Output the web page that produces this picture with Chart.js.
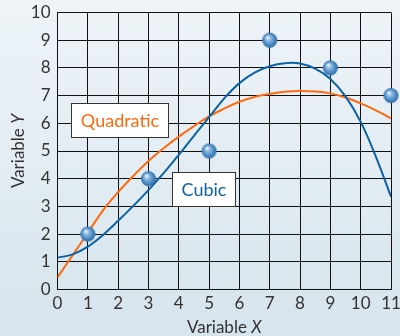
<!DOCTYPE html>
<html><head><meta charset="utf-8">
<script src="https://cdn.jsdelivr.net/npm/chart.js@4.4.1/dist/chart.umd.min.js"></script>
<style>
html,body{margin:0;padding:0;}
body{width:400px;height:336px;background:linear-gradient(180deg,#eef4f8 0%,#d6e4ed 100%);overflow:hidden;}
#wrap{width:400px;height:336px;position:relative;}
</style>
</head><body><div id="wrap"><canvas id="c" width="400" height="336"></canvas></div>
<script>
// sample positions along the fitted curves
const curveX    = [0,0.5,1,1.5,2,2.5,3,3.5,4,4.5,5,5.5,6,6.5,7,7.5,8,8.5,9,9.5,10,10.5,11];
const quadraticY= [0.44,1.24,2.05,2.86,3.52,4.1,4.64,5.1,5.52,5.9,6.25,6.53,6.78,6.95,7.06,7.14,7.17,7.15,7.08,6.93,6.72,6.47,6.18];
const cubicY    = [1.15,1.27,1.55,1.97,2.48,3.02,3.59,4.2,4.86,5.55,6.22,6.9,7.45,7.83,8.06,8.17,8.16,7.97,7.6,6.97,6.05,4.8,3.35];
// observed points
const pointX = [1,3,5,7,9,11];
const pointY = [2,4,5,9,8,7];
// axes
const xTicks = [0,1,2,3,4,5,6,7,8,9,10,11];
const yTicks = [0,1,2,3,4,5,6,7,8,9,10];
const xTitle = ['Variable ', 'X'];
const yTitle = ['Variable ', 'Y'];
const labelQuadratic = 'Quadratic';
const labelCubic = 'Cubic';

const FONT = 'Lato, "Open Sans", sans-serif';
const ORANGE = '#ff6a0e';
const BLUE = '#0b62a4';

function sphere(r){
  const s = Math.ceil(r*2+2), c = document.createElement('canvas');
  c.width = s; c.height = s;
  const g = c.getContext('2d');
  const cx = s/2, cy = s/2;
  const grad = g.createRadialGradient(cx - r*0.3, cy - r*0.4, r*0.05, cx, cy, r);
  grad.addColorStop(0, '#f2f8fd');
  grad.addColorStop(0.3, '#8fbbe2');
  grad.addColorStop(0.75, '#4686c2');
  grad.addColorStop(1, '#2e6aa3');
  g.fillStyle = grad;
  g.beginPath(); g.arc(cx, cy, r, 0, Math.PI*2); g.fill();
  return c;
}

const decor = {
  id: 'decor',
  afterDatasetsDraw(chart){
    const ctx = chart.ctx;
    function box(text, color, x0, y0, x1, y1){
      ctx.save();
      ctx.fillStyle = '#ffffff';
      ctx.fillRect(x0, y0, x1-x0, y1-y0);
      ctx.strokeStyle = '#333333'; ctx.lineWidth = 1;
      ctx.strokeRect(x0+0.5, y0+0.5, x1-x0-1, y1-y0-1);
      ctx.fillStyle = color;
      ctx.font = '18px ' + FONT;
      ctx.textAlign = 'center'; ctx.textBaseline = 'middle';
      ctx.fillText(text, (x0+x1)/2, (y0+y1)/2 + 1);
      ctx.restore();
    }
    box(labelQuadratic, ORANGE, 71, 103, 169, 138);
    box(labelCubic, BLUE, 172, 172, 236, 207);
  },
  afterDraw(chart){
    const ctx = chart.ctx, a = chart.chartArea;
    ctx.save();
    ctx.fillStyle = '#333333';
    function title(parts, cx, cy, rot){
      ctx.save();
      ctx.translate(cx, cy);
      if (rot) ctx.rotate(-Math.PI/2);
      ctx.font = '17px ' + FONT;
      const w0 = ctx.measureText(parts[0]).width;
      ctx.font = 'italic 17px ' + FONT;
      const w1 = ctx.measureText(parts[1]).width;
      const start = -(w0+w1)/2;
      ctx.textBaseline = 'alphabetic'; ctx.textAlign = 'left';
      ctx.font = '17px ' + FONT;
      ctx.fillText(parts[0], start, 0);
      ctx.font = 'italic 17px ' + FONT;
      ctx.fillText(parts[1], start + w0, 0);
      ctx.restore();
    }
    title(xTitle, (a.left + a.right)/2, 333, false);
    title(yTitle, 24, (a.top + a.bottom)/2, true);
    ctx.restore();
  }
};

const toXY = (xs, ys) => xs.map((x,i)=>({x:x, y:ys[i]}));

new Chart(document.getElementById('c'), {
  type: 'scatter',
  data: {
    datasets: [
      { label: 'Points', data: toXY(pointX, pointY), pointStyle: sphere(7.5), pointRadius: 7.5,
        showLine: false, clip: false, order: 0 },
      { label: labelQuadratic, data: toXY(curveX, quadraticY), showLine: true, borderColor: ORANGE,
        borderWidth: 2, pointRadius: 0, tension: 0.4, order: 2, fill: false },
      { label: labelCubic, data: toXY(curveX, cubicY), showLine: true, borderColor: BLUE,
        borderWidth: 2, pointRadius: 0, tension: 0.4, order: 1, fill: false }
    ]
  },
  options: {
    responsive: false,
    animation: false,
    devicePixelRatio: 1,
    layout: { padding: { top: 12.5, right: 9, left: 0, bottom: 0 } },
    plugins: { legend: { display: false }, tooltip: { enabled: false } },
    scales: {
      x: {
        type: 'linear', min: 0, max: 11,
        afterBuildTicks(s){ s.ticks = xTicks.map(v=>({value:v})); },
        afterFit(s){ s.height = 46.5; s.paddingLeft = 0; s.paddingRight = 0; },
        grid: { color: '#111111', lineWidth: 1, drawTicks: false },
        border: { color: '#111111', width: 1 },
        ticks: { color: '#333333', font: { family: FONT, size: 17 }, padding: 4, maxRotation: 0, autoSkip: false }
      },
      y: {
        type: 'linear', min: 0, max: 10,
        afterBuildTicks(s){ s.ticks = yTicks.map(v=>({value:v})); },
        afterFit(s){ s.width = 57.5; s.paddingTop = 0; s.paddingBottom = 0; },
        grid: { color: '#111111', lineWidth: 1, drawTicks: false },
        border: { color: '#111111', width: 1 },
        ticks: { color: '#333333', font: { family: FONT, size: 17 }, padding: 7, autoSkip: false }
      }
    }
  },
  plugins: [decor]
});
</script>
</body></html>
